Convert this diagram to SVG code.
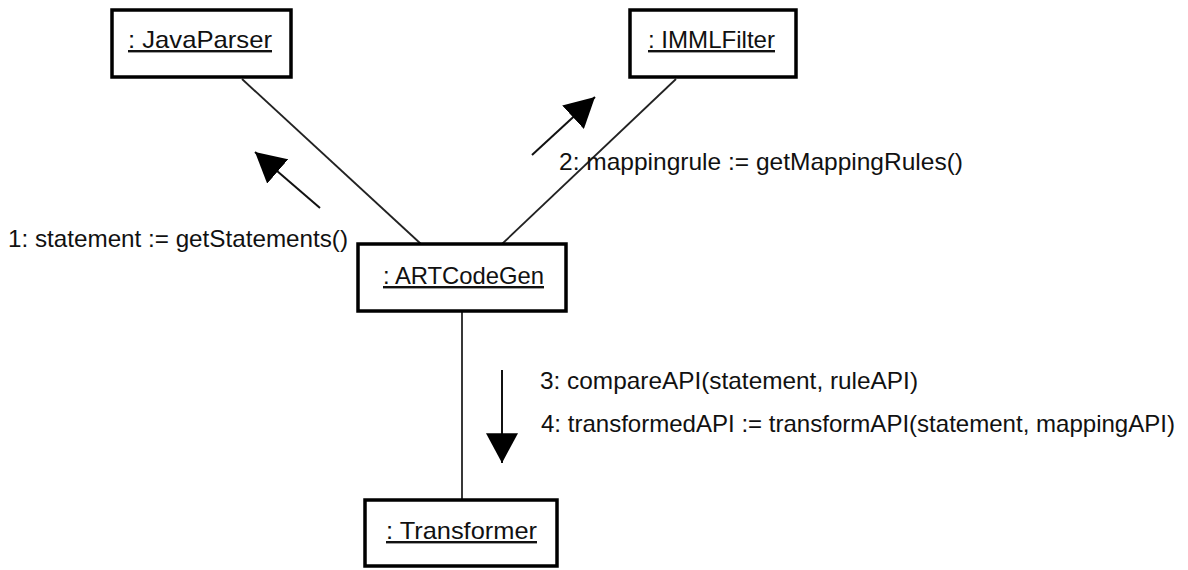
<svg xmlns="http://www.w3.org/2000/svg" width="1188" height="570" viewBox="0 0 1188 570">
<defs>
<marker id="ah" markerUnits="userSpaceOnUse" markerWidth="30" markerHeight="32" viewBox="0 0 28 30" refX="28" refY="15" orient="auto">
<path d="M0,0 L28,15 L0,30 Z" fill="#000"/>
</marker>
<style>
.box{fill:#fff;stroke:#000;stroke-width:3.5}
.lbl{font-family:"Liberation Sans",Arial,sans-serif;font-size:24px;fill:#111;text-decoration:underline}
.msg{font-family:"Liberation Sans",Arial,sans-serif;font-size:24px;fill:#111}
.conn{stroke:#222;stroke-width:1.8;fill:none}
.arr{stroke:#111;stroke-width:2;fill:none;marker-end:url(#ah)}
</style>
</defs>
<rect width="1188" height="570" fill="#fff"/>
<g id="connectors">
<line class="conn" x1="242" y1="79" x2="421" y2="244"/>
<line class="conn" x1="676" y1="79" x2="502" y2="244"/>
<line class="conn" x1="462" y1="312" x2="462" y2="500"/>
</g>
<g id="messages">
<line class="arr" x1="320" y1="208" x2="255" y2="152"/>
<text class="msg" x="8" y="247" textLength="340" lengthAdjust="spacingAndGlyphs">1: statement := getStatements()</text>
<line class="arr" x1="532" y1="155" x2="595" y2="97"/>
<text class="msg" x="559" y="170" textLength="404" lengthAdjust="spacingAndGlyphs">2: mappingrule := getMappingRules()</text>
<line class="arr" x1="502" y1="370" x2="502" y2="463"/>
<text class="msg" x="540" y="389" textLength="378" lengthAdjust="spacingAndGlyphs">3: compareAPI(statement, ruleAPI)</text>
<text class="msg" x="541" y="432" textLength="634" lengthAdjust="spacingAndGlyphs">4: transformedAPI := transformAPI(statement, mappingAPI)</text>
</g>
<g id="JavaParser">
<rect class="box" x="112" y="10" width="179" height="67"/>
<text class="lbl" x="128" y="48" textLength="144" lengthAdjust="spacingAndGlyphs">: JavaParser</text>
</g>
<g id="IMMLFilter">
<rect class="box" x="630" y="10" width="166" height="67"/>
<text class="lbl" x="648" y="48" textLength="127" lengthAdjust="spacingAndGlyphs">: IMMLFilter</text>
</g>
<g id="ARTCodeGen">
<rect class="box" x="358" y="244" width="208" height="67"/>
<text class="lbl" x="383" y="284" textLength="161" lengthAdjust="spacingAndGlyphs">: ARTCodeGen</text>
</g>
<g id="Transformer">
<rect class="box" x="365" y="500" width="192" height="66"/>
<text class="lbl" x="386" y="539" textLength="151" lengthAdjust="spacingAndGlyphs">: Transformer</text>
</g>
</svg>
